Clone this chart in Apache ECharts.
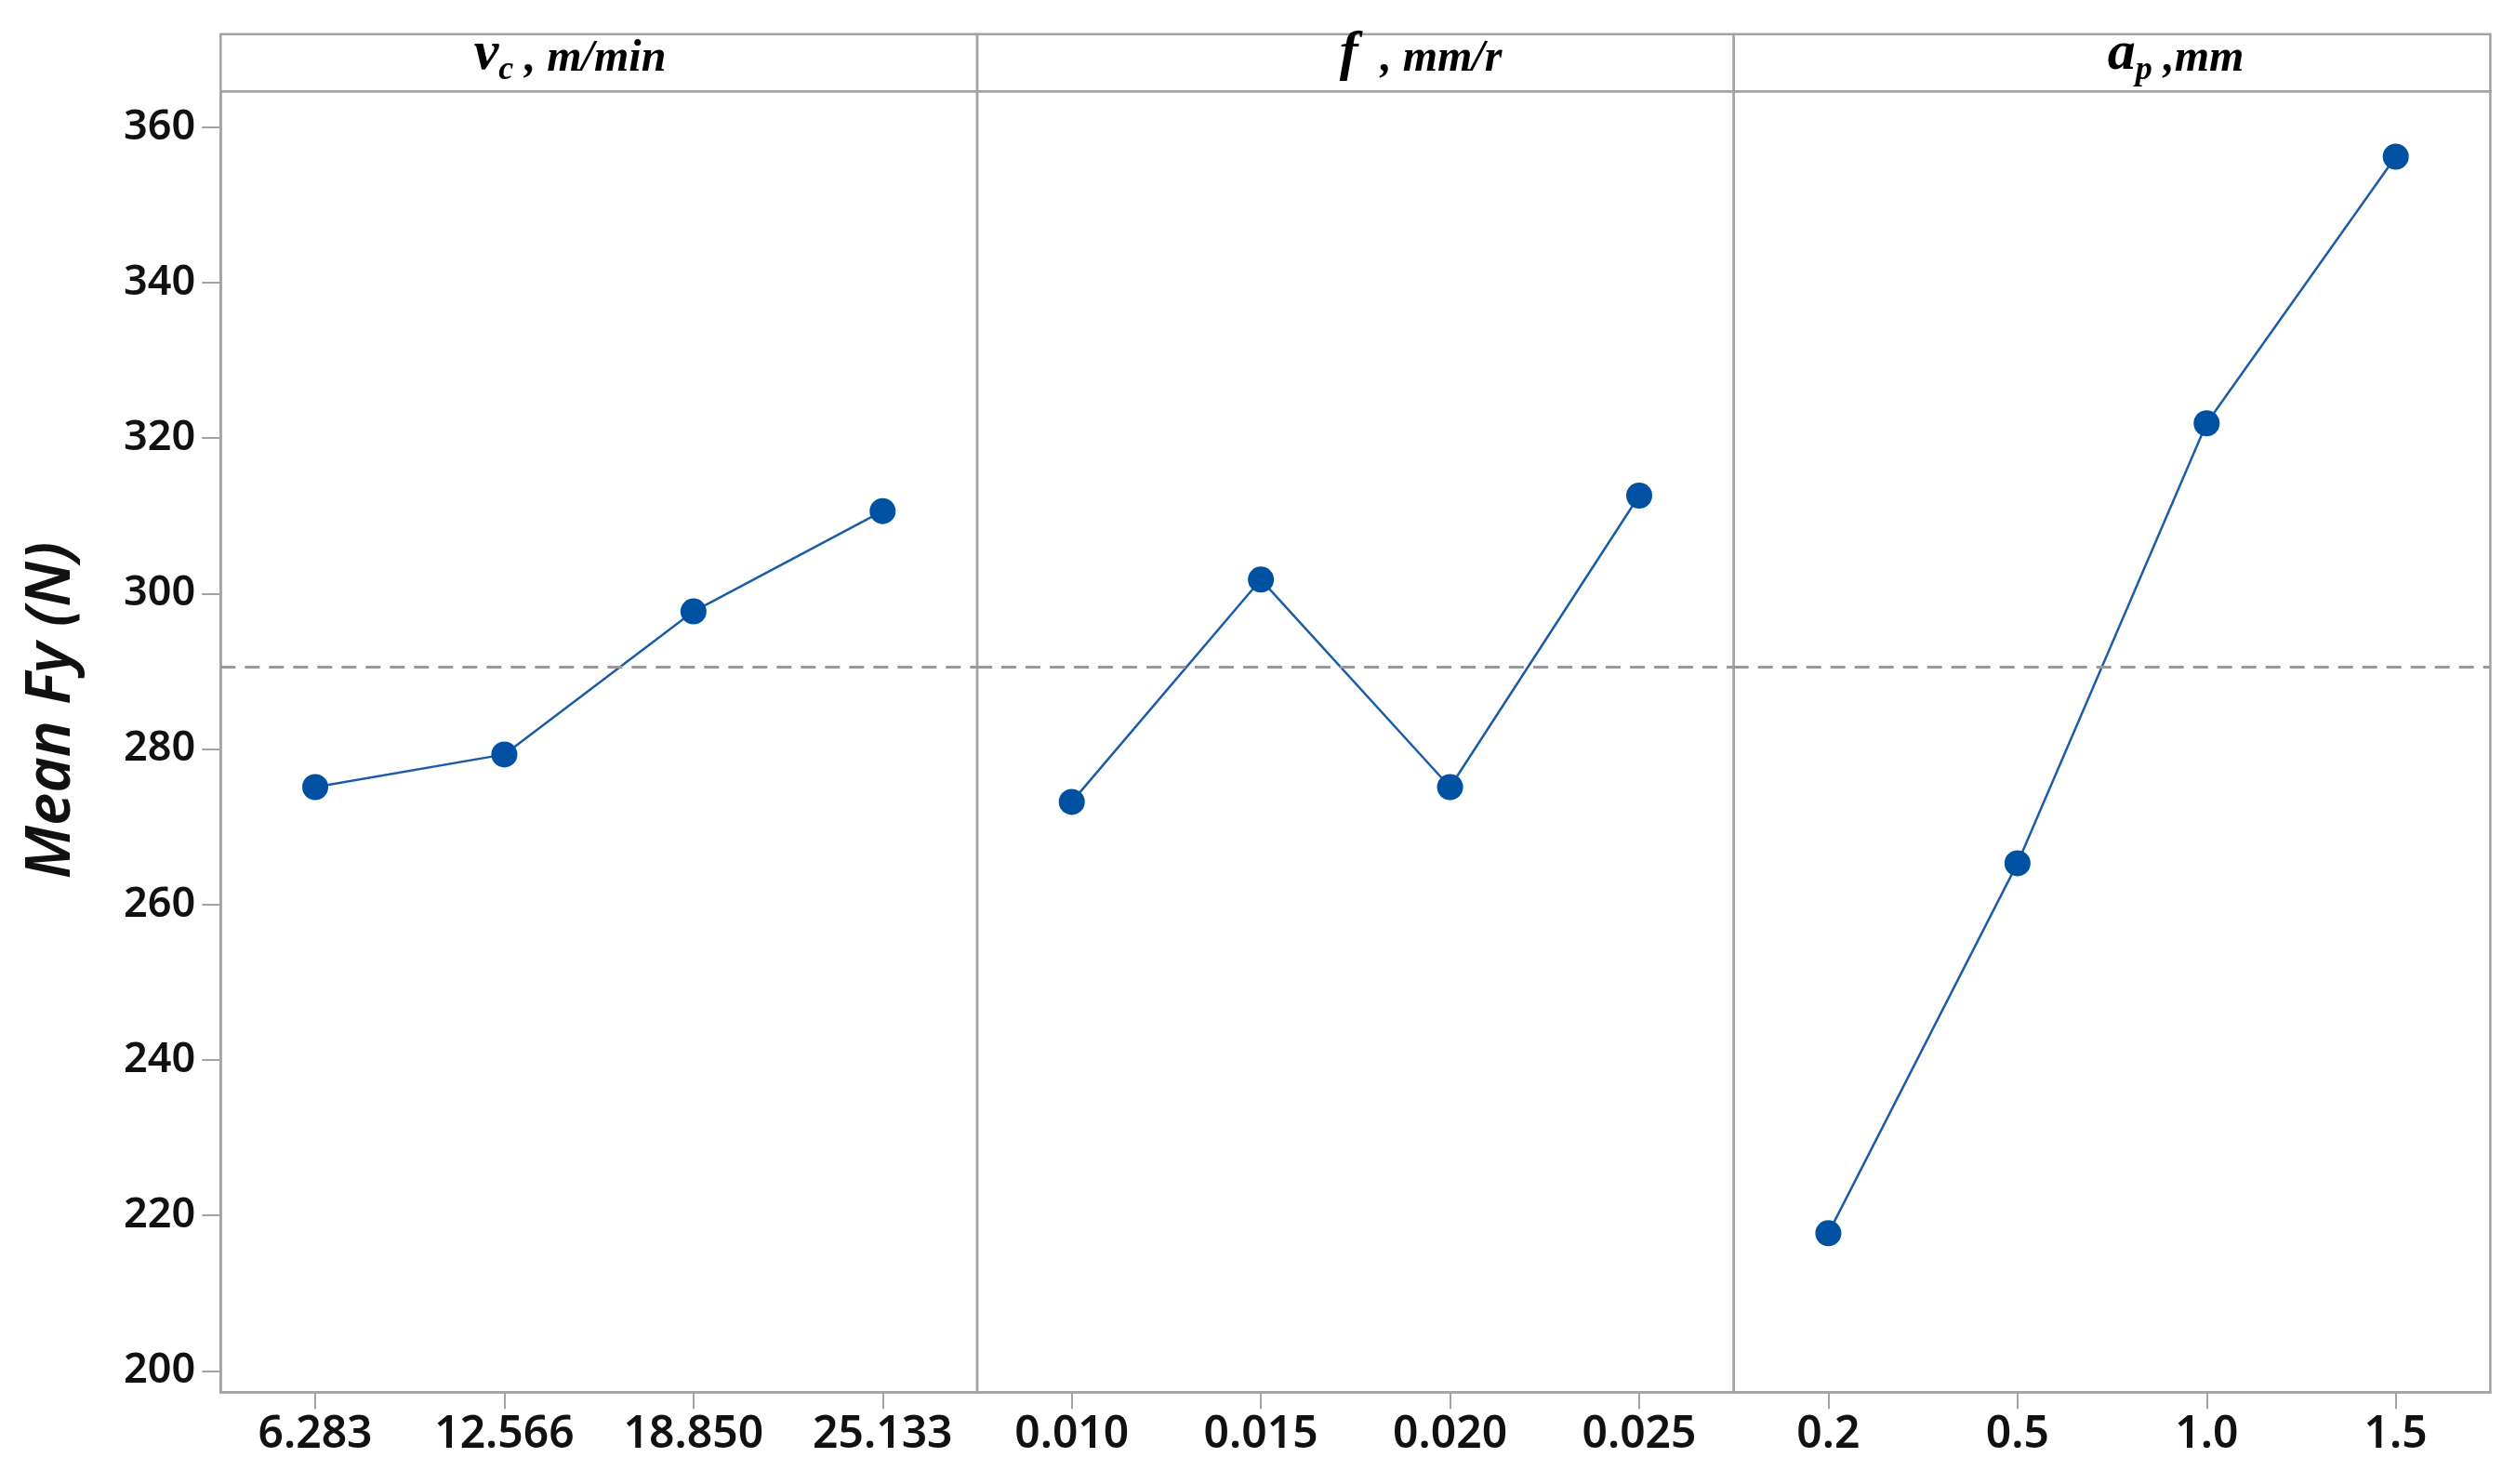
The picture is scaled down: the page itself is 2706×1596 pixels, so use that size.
<!DOCTYPE html>
<html>
<head>
<meta charset="utf-8">
<style>
  html, body { margin: 0; padding: 0; background: #fff; }
  #main { width: 2706px; height: 1596px; }
</style>
<script src="https://cdn.jsdelivr.net/npm/echarts@6/dist/echarts.min.js"></script>
</head>
<body>
<div id="main"></div>
<script>
// factor levels and the mean Fy
var vcLevels = ['6.283', '12.566', '18.850', '25.133'];
var vcMeans = [275.1, 279.3, 297.7, 310.6];
var fLevels = ['0.010', '0.015', '0.020', '0.025'];
var fMeans = [273.2, 301.8, 275.1, 312.6];
var apLevels = ['0.2', '0.5', '1.0', '1.5'];
var apMeans = [217.7, 265.3, 321.9, 356.2];
var yTicks = [200, 220, 240, 260, 280, 300, 320, 340, 360];

// grand mean, drawn as the dashed line in every panel
var allMeans = vcMeans.concat(fMeans, apMeans);
var grandMean = allMeans.reduce(function (a, b) { return a + b; }, 0) / allMeans.length;

var panels = [
  { levels: vcLevels, means: vcMeans, head: '{v|v}{s|c}{u| , m/min}', headX: 613 },
  { levels: fLevels, means: fMeans, head: '{v|f}{u|  , mm/r}', headX: 1528 },
  { levels: apLevels, means: apMeans, head: '{v|a}{s|p}{u| ,mm}', headX: 2340 }
];

var frameColor = '#a3a3a3';
var labelFont = '"Noto Sans", "Open Sans", sans-serif';
var serifFont = '"Liberation Serif", serif';
var plotLeft = 237.3, panelW = 813.7, plotTop = 98.3, plotH = 1399;
var headTop = 36.7, headH = plotTop - headTop;

var grids = [], xAxes = [], yAxes = [], series = [], graphics = [];

panels.forEach(function (p, i) {
  var left = plotLeft + i * panelW;
  grids.push({
    left: left, top: plotTop, width: panelW, height: plotH,
    show: true, borderColor: frameColor, borderWidth: 2.5,
    backgroundColor: 'transparent'
  });
  xAxes.push({
    type: 'category', gridIndex: i, data: p.levels, boundaryGap: true,
    axisLine: { show: true, lineStyle: { color: frameColor, width: 2.5 } },
    axisTick: { show: true, alignWithLabel: true, length: 18, lineStyle: { color: frameColor, width: 2 } },
    axisLabel: { fontSize: 48, fontWeight: 600, color: '#111', fontFamily: labelFont, margin: 22 },
    splitLine: { show: false }
  });
  yAxes.push({
    type: 'value', gridIndex: i, min: 197.25, max: 364.6,
    show: i === 0,
    axisLine: { show: true, lineStyle: { color: frameColor, width: 2.5 } },
    axisTick: { show: true, length: 20, customValues: yTicks, lineStyle: { color: frameColor, width: 2 } },
    axisLabel: { customValues: yTicks, fontSize: 45, fontWeight: 600, color: '#111', fontFamily: labelFont, margin: 27 },
    splitLine: { show: false }
  });
  series.push({
    type: 'line', xAxisIndex: i, yAxisIndex: i, data: p.means,
    symbol: 'circle', symbolSize: 28,
    lineStyle: { color: '#1a5ca8', width: 2.5 },
    itemStyle: { color: '#0051a2' },
    markLine: {
      silent: true, symbol: 'none', label: { show: false },
      lineStyle: { color: '#999999', width: 3, type: [16, 10] },
      data: [{ yAxis: grandMean }]
    }
  });
  // header strip above each panel
  graphics.push({
    type: 'rect',
    shape: { x: left, y: headTop, width: panelW, height: headH },
    style: { fill: 'none', stroke: frameColor, lineWidth: 2.5 }
  });
  graphics.push({
    type: 'text', x: p.headX, y: 94,
    style: {
      text: p.head, align: 'center', verticalAlign: 'bottom',
      rich: {
        v: { fontSize: 60, fontStyle: 'italic', fontWeight: 'bold', fontFamily: serifFont, fill: '#000', lineHeight: 60, verticalAlign: 'bottom', padding: [0, 0, 6, 0] },
        s: { fontSize: 36, fontStyle: 'italic', fontWeight: 'bold', fontFamily: serifFont, fill: '#000', lineHeight: 36, verticalAlign: 'bottom' },
        u: { fontSize: 48, fontStyle: 'italic', fontWeight: 'bold', fontFamily: serifFont, fill: '#000', lineHeight: 48, verticalAlign: 'bottom', padding: [0, 0, 6, 0] }
      }
    }
  });
});

graphics.push({
  type: 'text', x: 56, y: 764, rotation: Math.PI / 2,
  style: {
    text: 'Mean Fy (N)', align: 'center', verticalAlign: 'middle',
    fontSize: 66, fontStyle: 'italic', fontWeight: 600, fontFamily: labelFont, fill: '#111'
  }
});

var chart = echarts.init(document.getElementById('main'));
chart.setOption({
  backgroundColor: '#fff',
  animation: false,
  grid: grids,
  xAxis: xAxes,
  yAxis: yAxes,
  series: series,
  graphic: graphics
});
</script>
</body>
</html>
